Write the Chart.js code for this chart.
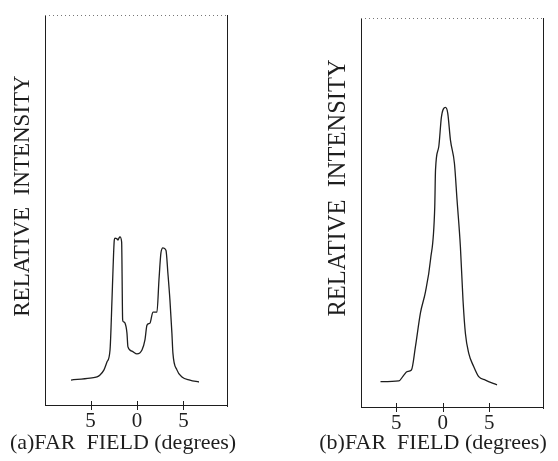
<!DOCTYPE html>
<html>
<head>
<meta charset="utf-8">
<script src="https://cdn.jsdelivr.net/npm/chart.js@4/dist/chart.umd.min.js"></script>
<style>
  body { margin: 0; background: #fff; }
  .wrap { position: absolute; top: 0; width: 279px; height: 461px; }
</style>
</head>
<body>
<div class="wrap" style="left:0"><canvas id="chartA"></canvas></div>
<div class="wrap" style="left:279px"><canvas id="chartB"></canvas></div>
<script>
// (a) far field, two-lobed
var angleA = [-7.1, -5.05, -4.3, -3.98, -3.55, -3.23, -2.9, -2.69, -2.58, -2.44, -2.37, -2.15, -2.04, -1.94, -1.83, -1.65,
  -1.54, -1.45, -1.29, -1.08, -0.97, -0.54, 0, 0.54, 0.86, 1.08, 1.4, 1.72, 2.15, 2.37, 2.58, 2.8, 3.12, 3.33, 3.55,
  3.76, 3.87, 4.3, 4.84, 5.7, 6.67];
var intensityA = [6.4, 6.9, 7.2, 7.7, 9.0, 11.0, 14.1, 26.9, 34.6, 42.3, 42.8, 42.6, 42.3, 42.8, 43.1, 41.8,
  21.8, 21.3, 21.0, 18.5, 14.9, 13.8, 13.1, 14.1, 16.7, 20.5, 21.0, 23.8, 23.8, 32.1, 39.0, 40.3, 39.7, 33.8, 26.9,
  18.5, 13.3, 9.0, 7.2, 6.4, 5.9];

// (b) far field, single lobe
var angleB = [-6.7, -4.73, -4.19, -3.84, -3.37, -2.94, -2.4, -1.86, -1.32, -0.86, -0.78, -0.43, -0.14, 0.29, 0.54,
  0.83, 1.26, 1.54, 1.9, 2.18, 2.44, 2.8, 3.33, 3.87, 4.59, 5.84];
var intensityB = [6.5, 6.7, 8.2, 9.1, 9.5, 15.5, 24.2, 29.6, 37.8, 51.5, 60.9, 66.9, 74.6, 77.0, 75.5,
  68.6, 62.6, 53.2, 41.2, 27.5, 18.9, 13.8, 10.4, 7.8, 6.9, 5.7];

var tickValues = [-5, 0, 5];
var yTitle = 'RELATIVE  INTENSITY';
var captionA = '(a)FAR  FIELD (degrees)';
var captionB = '(b)FAR  FIELD (degrees)';

var ink = '#1e1e1e';
var serif = '"Liberation Serif", "DejaVu Serif", serif';

// frame, crossing tick marks and the two captions
var framePlugin = {
  id: 'frame',
  afterDraw: function(chart, args, opts) {
    var ctx = chart.ctx, a = chart.chartArea, xs = chart.scales.x;
    ctx.save();
    ctx.strokeStyle = ink;
    ctx.lineWidth = 1;
    // left + right sides
    ctx.beginPath();
    ctx.moveTo(a.left + 0.5, a.top); ctx.lineTo(a.left + 0.5, a.bottom);
    ctx.moveTo(a.right - 0.5, a.top); ctx.lineTo(a.right - 0.5, a.bottom + 2);
    ctx.stroke();
    // dotted top
    ctx.strokeStyle = '#777';
    ctx.setLineDash([1, 3]);
    ctx.beginPath();
    ctx.moveTo(a.left, a.top + 0.5); ctx.lineTo(a.right, a.top + 0.5);
    ctx.stroke();
    ctx.setLineDash([]);
    // axis line and ticks
    ctx.strokeStyle = ink;
    ctx.beginPath();
    ctx.moveTo(a.left, a.bottom + 0.5); ctx.lineTo(a.right, a.bottom + 0.5);
    tickValues.forEach(function(v) {
      var px = Math.round(xs.getPixelForValue(v)) + 0.5;
      ctx.moveTo(px, a.bottom - 4); ctx.lineTo(px, a.bottom + 5);
    });
    ctx.stroke();

    ctx.fillStyle = ink;
    ctx.font = opts.ySize + 'px ' + serif;
    ctx.textAlign = 'center';
    ctx.textBaseline = 'middle';
    ctx.save();
    ctx.translate(opts.yX, opts.yY);
    ctx.rotate(-Math.PI / 2);
    ctx.fillText(yTitle, 0, 0);
    ctx.restore();
    ctx.font = '22px ' + serif;
    ctx.fillText(opts.caption, opts.cX, opts.cY);
    ctx.restore();
  }
};

function makeChart(id, xs, ys, range, pad, axisHeight, cap) {
  return new Chart(document.getElementById(id), {
    type: 'line',
    data: {
      datasets: [{
        data: xs.map(function(x, i) { return { x: x, y: ys[i] }; }),
        borderColor: ink,
        borderWidth: 1.3,
        pointRadius: 0,
        cubicInterpolationMode: 'monotone',
        fill: false
      }]
    },
    options: {
      responsive: true,
      maintainAspectRatio: false,
      animation: false,
      layout: { padding: pad },
      plugins: { legend: { display: false }, tooltip: { enabled: false }, frame: cap },
      scales: {
        x: {
          type: 'linear',
          min: range[0],
          max: range[1],
          afterBuildTicks: function(s) { s.ticks = tickValues.map(function(v) { return { value: v }; }); },
          afterFit: function(s) { s.height = axisHeight; },
          grid: { display: false, drawTicks: false },
          border: { display: false },
          ticks: {
            color: ink,
            padding: 4,
            maxRotation: 0,
            font: { family: serif, size: 21 },
            callback: function(v) { return String(Math.abs(v)); }
          }
        },
        y: { display: false, min: 0, max: 100 }
      }
    },
    plugins: [framePlugin]
  });
}

makeChart('chartA', angleA, intensityA, [-9.9, 9.8], { left: 45, top: 15, right: 51, bottom: 0 }, 56,
  { yX: 23, yY: 196, ySize: 23, caption: captionA, cX: 123, cY: 443 });
makeChart('chartB', angleB, intensityB, [-8.8, 10.9], { left: 82, top: 18, right: 14, bottom: 0 }, 54,
  { yX: 60, yY: 188, ySize: 24.5, caption: captionB, cX: 154, cY: 443 });
</script>
</body>
</html>
